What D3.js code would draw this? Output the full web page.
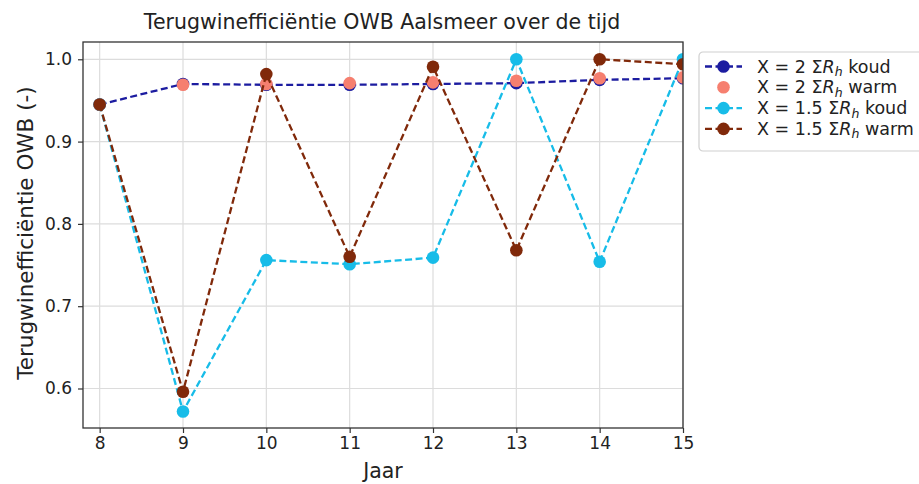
<!DOCTYPE html>
<html>
<head>
<meta charset="utf-8">
<script src="https://cdn.jsdelivr.net/npm/d3@7"></script>
<style>
  html, body { margin: 0; padding: 0; background: #fff; }
  svg { display: block; font-family: "DejaVu Sans", sans-serif; }
</style>
</head>
<body>
<svg id="chart" width="919" height="484"></svg>
<script>
// Years on the x axis
const years = [8, 9, 10, 11, 12, 13, 14, 15];

// Recovery efficiency per year for each scenario
const koud2    = [0.945, 0.970, 0.969, 0.969, 0.970, 0.971, 0.975, 0.977];
const warm2    = [0.945, 0.969, 0.970, 0.971, 0.972, 0.974, 0.977, 0.978];
const koud15   = [0.945, 0.572, 0.756, 0.751, 0.759, 1.000, 0.754, 1.000];
const warm15   = [0.945, 0.596, 0.982, 0.760, 0.991, 0.768, 1.000, 0.994];

const xTicks = [8, 9, 10, 11, 12, 13, 14, 15];
const yTicks = [0.6, 0.7, 0.8, 0.9, 1.0];

const series = [
  { label: ["X = 2 Σ", "koud"],   values: koud2,  color: "#1c1ca0", line: true },
  { label: ["X = 2 Σ", "warm"],   values: warm2,  color: "#f67f6f", line: false },
  { label: ["X = 1.5 Σ", "koud"], values: koud15, color: "#17bce8", line: true },
  { label: ["X = 1.5 Σ", "warm"], values: warm15, color: "#80290a", line: true }
];

const svg = d3.select("#chart");
const plot = { left: 83, right: 683, top: 42, bottom: 428 };

const x = d3.scaleLinear().domain([7.8, 15]).range([plot.left, plot.right]);
const y = d3.scaleLinear().domain([0.552, 1.021]).range([plot.bottom, plot.top]);

// Grid
const grid = svg.append("g");
grid.selectAll("line.gx").data(xTicks).join("line")
  .attr("x1", d => x(d)).attr("x2", d => x(d))
  .attr("y1", plot.top).attr("y2", plot.bottom)
  .attr("stroke", "#dcdcdc").attr("stroke-width", 1.2);
grid.selectAll("line.gy").data(yTicks).join("line")
  .attr("x1", plot.left).attr("x2", plot.right)
  .attr("y1", d => y(d)).attr("y2", d => y(d))
  .attr("stroke", "#dcdcdc").attr("stroke-width", 1.2);

// Data layer clipped to axes
svg.append("defs").append("clipPath").attr("id", "clip")
  .append("rect").attr("x", plot.left).attr("y", plot.top)
  .attr("width", plot.right - plot.left).attr("height", plot.bottom - plot.top);

const data = svg.append("g").attr("clip-path", "url(#clip)");
const lineGen = d3.line().x((d, i) => x(years[i])).y(d => y(d));

series.forEach(s => {
  const g = data.append("g");
  if (s.line) {
    g.append("path").attr("d", lineGen(s.values))
      .attr("fill", "none").attr("stroke", s.color)
      .attr("stroke-width", 2.3).attr("stroke-dasharray", "7,3.5");
  }
  g.selectAll("circle").data(s.values).join("circle")
    .attr("cx", (d, i) => x(years[i])).attr("cy", d => y(d))
    .attr("r", 6.3).attr("fill", s.color);
});

// Axes
const xAxis = d3.axisBottom(x).tickValues(xTicks).tickFormat(d3.format("d")).tickSize(5).tickPadding(4);
const yAxis = d3.axisLeft(y).tickValues(yTicks).tickFormat(d3.format(".1f")).tickSize(5).tickPadding(6);

const gx = svg.append("g").attr("transform", `translate(0,${plot.bottom})`).call(xAxis);
const gy = svg.append("g").attr("transform", `translate(${plot.left},0)`).call(yAxis);
[gx, gy].forEach(g => {
  g.select(".domain").remove();
  g.selectAll("line").attr("stroke", "#333").attr("stroke-width", 1.2);
  g.selectAll("text").attr("font-size", 17).attr("fill", "#222")
    .attr("font-family", "DejaVu Sans, sans-serif");
});

// Frame
svg.append("rect").attr("x", plot.left).attr("y", plot.top)
  .attr("width", plot.right - plot.left).attr("height", plot.bottom - plot.top)
  .attr("fill", "none").attr("stroke", "#333").attr("stroke-width", 1.3);

// Titles
svg.append("text").attr("x", 382).attr("y", 29)
  .attr("text-anchor", "middle").attr("font-size", 20.5).attr("fill", "#222")
  .text("Terugwinefficiëntie OWB Aalsmeer over de tijd");
svg.append("text").attr("x", 383).attr("y", 478)
  .attr("text-anchor", "middle").attr("font-size", 20.5).attr("fill", "#222")
  .text("Jaar");
svg.append("text").attr("transform", `translate(33,233) rotate(-90)`)
  .attr("text-anchor", "middle").attr("font-size", 21.5).attr("fill", "#222")
  .text("Terugwinefficiëntie OWB (-)");

// Legend
const leg = svg.append("g").attr("transform", "translate(699,52)");
leg.append("rect").attr("x", 0).attr("y", 0).attr("width", 240).attr("height", 99)
  .attr("rx", 4).attr("fill", "#fff").attr("stroke", "#d0d0d0").attr("stroke-width", 1.2);

series.forEach((s, i) => {
  const row = leg.append("g").attr("transform", `translate(0,${14.5 + i * 20.8})`);
  if (s.line) {
    row.append("line").attr("x1", 6).attr("x2", 43).attr("y1", 0).attr("y2", 0)
      .attr("stroke", s.color).attr("stroke-width", 2.3).attr("stroke-dasharray", "7,3.5");
  }
  row.append("circle").attr("cx", 24.5).attr("cy", 0).attr("r", 6.3).attr("fill", s.color);
  const t = row.append("text").attr("x", 58).attr("y", 6)
    .attr("font-size", 17.5).attr("fill", "#222");
  t.append("tspan").text(s.label[0]);
  t.append("tspan").attr("font-style", "italic").text("R");
  t.append("tspan").attr("font-style", "italic").attr("font-size", 12.5).attr("dy", 3.5).text("h");
  t.append("tspan").attr("dy", -3.5).text(" " + s.label[1]);
});
</script>
</body>
</html>
